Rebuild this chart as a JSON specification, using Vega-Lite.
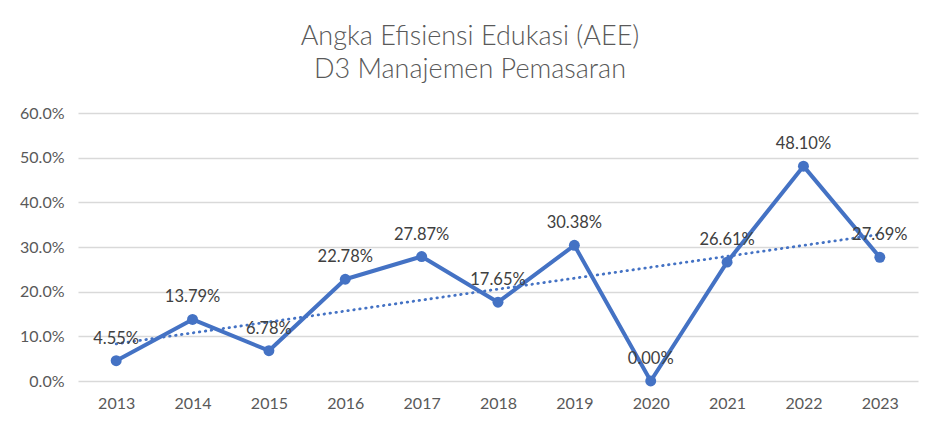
{
  "$schema": "https://vega.github.io/schema/vega-lite/v6.json",
  "width": 840,
  "height": 268,
  "autosize": {"type": "none"},
  "padding": {"left": 78, "top": 113, "right": 24, "bottom": 51},
  "background": "white",
  "title": {
    "text": ["Angka Efisiensi Edukasi (AEE)", "D3 Manajemen Pemasaran"],
    "font": "Lato",
    "fontSize": 27,
    "fontWeight": 300,
    "color": "#595959",
    "lineHeight": 33,
    "anchor": "middle",
    "dx": -28,
    "offset": 21
  },
  "data": {
    "values": [
      {"year": 2013, "aee": 0.0455},
      {"year": 2014, "aee": 0.1379},
      {"year": 2015, "aee": 0.0678},
      {"year": 2016, "aee": 0.2278},
      {"year": 2017, "aee": 0.2787},
      {"year": 2018, "aee": 0.1765},
      {"year": 2019, "aee": 0.3038},
      {"year": 2020, "aee": 0.0},
      {"year": 2021, "aee": 0.2661},
      {"year": 2022, "aee": 0.481},
      {"year": 2023, "aee": 0.2769}
    ]
  },
  "encoding": {
    "x": {
      "field": "year",
      "type": "quantitative",
      "title": null,
      "scale": {"domain": [2012.5, 2023.5], "nice": false, "zero": false},
      "axis": {
        "values": [2013, 2014, 2015, 2016, 2017, 2018, 2019, 2020, 2021, 2022, 2023],
        "format": "d",
        "grid": false,
        "ticks": false,
        "domain": false,
        "labelPadding": 14,
        "labelFont": "Lato",
        "labelFontSize": 16,
        "labelColor": "#595959"
      }
    },
    "y": {
      "field": "aee",
      "type": "quantitative",
      "title": null,
      "scale": {"domain": [0, 0.6], "nice": false},
      "axis": {
        "values": [0, 0.1, 0.2, 0.3, 0.4, 0.5, 0.6],
        "format": ".1%",
        "grid": true,
        "gridColor": "#d9d9d9",
        "gridWidth": 1.3,
        "ticks": false,
        "domain": false,
        "labelPadding": 14,
        "labelFont": "Lato",
        "labelFontSize": 16,
        "labelColor": "#595959"
      }
    }
  },
  "layer": [
    {
      "transform": [{"regression": "aee", "on": "year"}],
      "mark": {"type": "line", "color": "#4472C4", "strokeWidth": 2.8, "strokeDash": [0.5, 5.5], "strokeCap": "round"}
    },
    {
      "mark": {"type": "line", "color": "#4472C4", "strokeWidth": 4, "strokeJoin": "round"}
    },
    {
      "mark": {"type": "point", "filled": true, "opacity": 1, "color": "#4472C4", "size": 120}
    },
    {
      "mark": {"type": "text", "dy": -22, "font": "Lato", "fontSize": 16.5, "color": "#404040"},
      "encoding": {"text": {"field": "aee", "type": "quantitative", "format": ".2%"}}
    }
  ],
  "config": {"view": {"stroke": null}}
}
